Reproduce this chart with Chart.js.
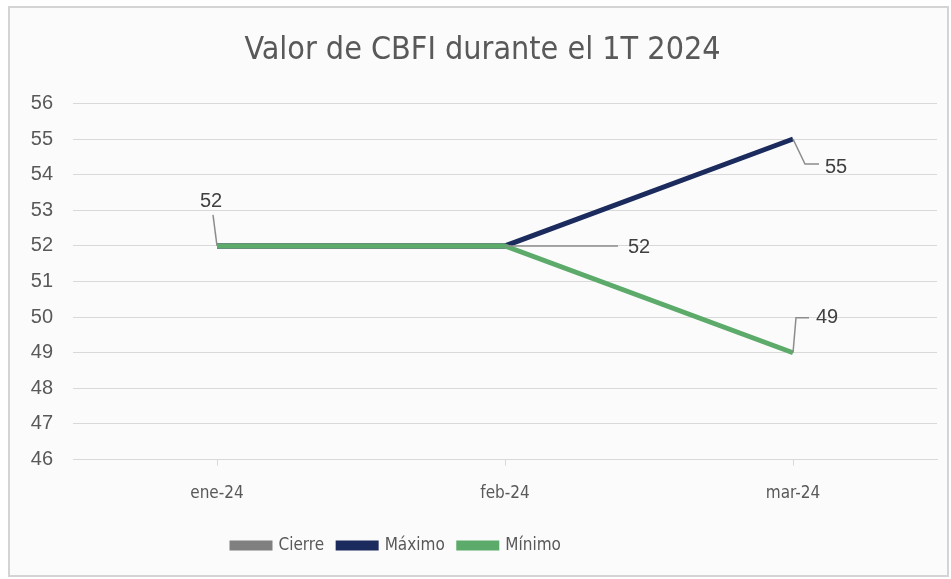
<!DOCTYPE html>
<html>
<head>
<meta charset="utf-8">
<script src="https://cdn.jsdelivr.net/npm/chart.js@4.4.1/dist/chart.umd.min.js"></script>
<style>
  html, body { margin: 0; padding: 0; background: #ffffff; }
  #frame {
    position: absolute; left: 8px; top: 6px;
    width: 937px; height: 567px;
    border: 2px solid #d4d4d4;
    background: #fbfbfb;
  }
  #frame canvas { display: block; }
</style>
</head>
<body>
<div id="frame"><canvas id="cbfi" width="937" height="567"></canvas></div>
<script>
// Valor de CBFI script
const months = ['ene-24', 'feb-24', 'mar-24'];
const cierre = [52, 52, null];
const maximo = [52, 52, 55];
const minimo = [52, 52, 49];
const yTicks = [46, 47, 48, 49, 50, 51, 52, 53, 54, 55, 56];

const narrow = "'Liberation Sans Narrow', 'DejaVu Sans Condensed', 'Arial Narrow', sans-serif";
const arial = "'Liberation Sans', Arial, sans-serif";

// labels with leader lines: [dataset, index, leader path (dx,dy from point), text pos, align]
const callouts = [
  { ds: 2, i: 0, path: [[0, 0], [-4, -31]], text: [-6, -44], align: 'center' },
  { ds: 0, i: 1, path: [[0, 0], [113, 0]], text: [123, 2], align: 'left' },
  { ds: 1, i: 2, path: [[0, 0], [12, 25], [26, 25]], text: [32, 28], align: 'left' },
  { ds: 2, i: 2, path: [[0, 0], [3, -35], [16, -35]], text: [23, -35], align: 'left' }
];

const calloutPlugin = {
  id: 'callouts',
  afterLayout(chart) {
    // legend sits left of centre in the original, title a bit right
    chart.legend.left = 208;
    chart.legend.top += 1;
    chart.titleBlock.left += 18;
  },
  afterDatasetsDraw(chart) {
    const c = chart.ctx;
    c.save();
    callouts.forEach(function(lb) {
      const pt = chart.getDatasetMeta(lb.ds).data[lb.i];
      const value = chart.data.datasets[lb.ds].data[lb.i];
      c.strokeStyle = '#8c8c8c';
      c.lineWidth = 1.5;
      c.beginPath();
      lb.path.forEach(function(p, k) {
        if (k === 0) c.moveTo(pt.x + p[0], pt.y + p[1]);
        else c.lineTo(pt.x + p[0], pt.y + p[1]);
      });
      c.stroke();
      c.fillStyle = '#404040';
      c.font = '20px ' + arial;
      c.textAlign = lb.align;
      c.textBaseline = 'middle';
      c.fillText(String(value), pt.x + lb.text[0], pt.y + lb.text[1]);
    });
    c.restore();
  }
};

const cbfiData = {
  labels: months,
  datasets: [
    {
      label: 'Cierre',
      data: cierre,
      borderColor: '#808080',
      backgroundColor: '#808080',
      borderWidth: 5,
      pointRadius: 0,
      order: 2
    },
    {
      label: 'Máximo',
      data: maximo,
      borderColor: '#1c2b5e',
      backgroundColor: '#1c2b5e',
      borderWidth: 5,
      pointRadius: 0,
      order: 1
    },
    {
      label: 'Mínimo',
      data: minimo,
      borderColor: '#5cab6b',
      backgroundColor: '#5cab6b',
      borderWidth: 5,
      pointRadius: 0,
      order: 0
    }
  ]
};

new Chart(document.getElementById('cbfi'), {
  type: 'line',
  data: cbfiData,
  plugins: [calloutPlugin],
  options: {
    responsive: false,
    animation: false,
    layout: { padding: { left: 0, right: 10, top: 0, bottom: 12 } },
    plugins: {
      title: {
        display: true,
        text: 'Valor de CBFI durante el 1T 2024',
        color: '#595959',
        font: { family: narrow, size: 32, weight: 'normal' },
        padding: { top: 23, bottom: 34 }
      },
      legend: {
        position: 'bottom',
        align: 'start',
        labels: {
          boxWidth: 38,
          boxHeight: 5,
          padding: 14,
          color: '#595959',
          font: { family: narrow, size: 17 },
          sort: function(a, b) { return a.datasetIndex - b.datasetIndex; }
        }
      },
      tooltip: { enabled: false }
    },
    scales: {
      x: {
        offset: true,
        grid: {
          drawOnChartArea: false,
          drawTicks: true,
          tickLength: 6,
          color: '#d9d9d9'
        },
        border: { color: '#d9d9d9' },
        ticks: {
          color: '#595959',
          padding: 18,
          font: { family: narrow, size: 17 }
        }
      },
      y: {
        min: 46,
        max: 56,
        afterFit: function(axis) { axis.width = 63; },
        afterBuildTicks: function(axis) {
          axis.ticks = yTicks.map(function(v) { return { value: v }; });
        },
        grid: { color: '#d9d9d9', drawTicks: false },
        border: { display: false },
        ticks: {
          color: '#595959',
          padding: 20,
          font: { family: arial, size: 20 }
        }
      }
    }
  }
});
</script>
</body>
</html>
